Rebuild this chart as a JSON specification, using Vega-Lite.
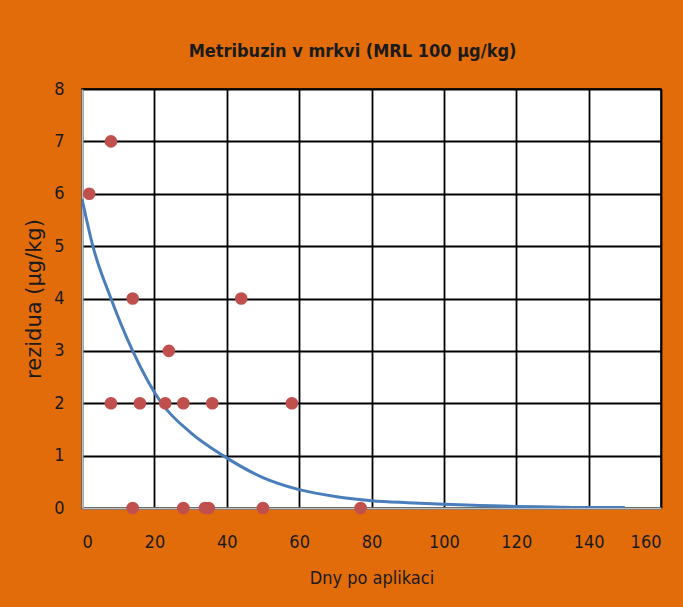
{
  "$schema": "https://vega.github.io/schema/vega-lite/v6.json",
  "width": 579,
  "height": 419,
  "autosize": {"type": "none"},
  "padding": {"left": 82, "top": 89, "right": 22, "bottom": 99},
  "background": "#E36C0A",
  "title": {
    "text": "Metribuzin v mrkvi (MRL 100 µg/kg)",
    "font": "DejaVu Sans Condensed, sans-serif",
    "fontSize": 18,
    "fontWeight": "bold",
    "color": "#1a1a1a",
    "frame": "group",
    "anchor": "middle",
    "dx": -19,
    "dy": 21,
    "offset": 26,
    "baseline": "alphabetic"
  },
  "config": {
    "view": {"stroke": "#000000", "strokeWidth": 1.5, "fill": "#ffffff"},
    "axis": {
      "labelFont": "DejaVu Sans Condensed, sans-serif",
      "titleFont": "DejaVu Sans Condensed, sans-serif",
      "labelFontSize": 18,
      "titleFontSize": 18,
      "titleFontWeight": "normal",
      "labelColor": "#1a1a1a",
      "titleColor": "#1a1a1a",
      "gridColor": "#000000",
      "gridWidth": 1.8,
      "gridOpacity": 1,
      "ticks": false,
      "domainColor": "#bdbdbd",
      "domainWidth": 2
    }
  },
  "datasets": {
    "points": [
      {"dny": 2, "rezidua": 6},
      {"dny": 8, "rezidua": 7},
      {"dny": 14, "rezidua": 4},
      {"dny": 44, "rezidua": 4},
      {"dny": 24, "rezidua": 3},
      {"dny": 8, "rezidua": 2},
      {"dny": 16, "rezidua": 2},
      {"dny": 23, "rezidua": 2},
      {"dny": 28, "rezidua": 2},
      {"dny": 36, "rezidua": 2},
      {"dny": 58, "rezidua": 2},
      {"dny": 14, "rezidua": 0},
      {"dny": 28, "rezidua": 0},
      {"dny": 34, "rezidua": 0},
      {"dny": 35, "rezidua": 0},
      {"dny": 50, "rezidua": 0},
      {"dny": 77, "rezidua": 0}
    ],
    "curve": [
      {"dny": 0, "rezidua": 5.9},
      {"dny": 3, "rezidua": 5.0},
      {"dny": 8, "rezidua": 4.0},
      {"dny": 14, "rezidua": 3.0},
      {"dny": 22, "rezidua": 2.0},
      {"dny": 30, "rezidua": 1.44},
      {"dny": 39, "rezidua": 1.0},
      {"dny": 50, "rezidua": 0.58},
      {"dny": 60, "rezidua": 0.35},
      {"dny": 70, "rezidua": 0.22},
      {"dny": 80, "rezidua": 0.14},
      {"dny": 90, "rezidua": 0.1},
      {"dny": 100, "rezidua": 0.07},
      {"dny": 110, "rezidua": 0.05},
      {"dny": 120, "rezidua": 0.03},
      {"dny": 130, "rezidua": 0.02},
      {"dny": 140, "rezidua": 0.01},
      {"dny": 150, "rezidua": 0.01}
    ]
  },
  "layer": [
    {
      "data": {"name": "curve"},
      "mark": {"type": "line", "color": "#4A7EBB", "strokeWidth": 3, "interpolate": "monotone", "clip": true},
      "encoding": {
        "x": {
          "field": "dny",
          "type": "quantitative",
          "scale": {"domain": [0, 160], "nice": false},
          "axis": {"values": [0, 20, 40, 60, 80, 100, 120, 140, 160], "title": "Dny po aplikaci", "labelPadding": 25, "titlePadding": 18}
        },
        "y": {
          "field": "rezidua",
          "type": "quantitative",
          "scale": {"domain": [0, 8], "nice": false},
          "axis": {"values": [0, 1, 2, 3, 4, 5, 6, 7, 8], "title": "rezidua (µg/kg)", "titleFont": "DejaVu Sans, sans-serif", "titleFontSize": 21, "labelPadding": 18, "titlePadding": 9}
        }
      }
    },
    {
      "data": {"name": "points"},
      "mark": {"type": "point", "filled": true, "shape": "circle", "size": 160, "color": "#C0504D", "opacity": 1},
      "encoding": {
        "x": {"field": "dny", "type": "quantitative"},
        "y": {"field": "rezidua", "type": "quantitative"}
      }
    }
  ]
}
